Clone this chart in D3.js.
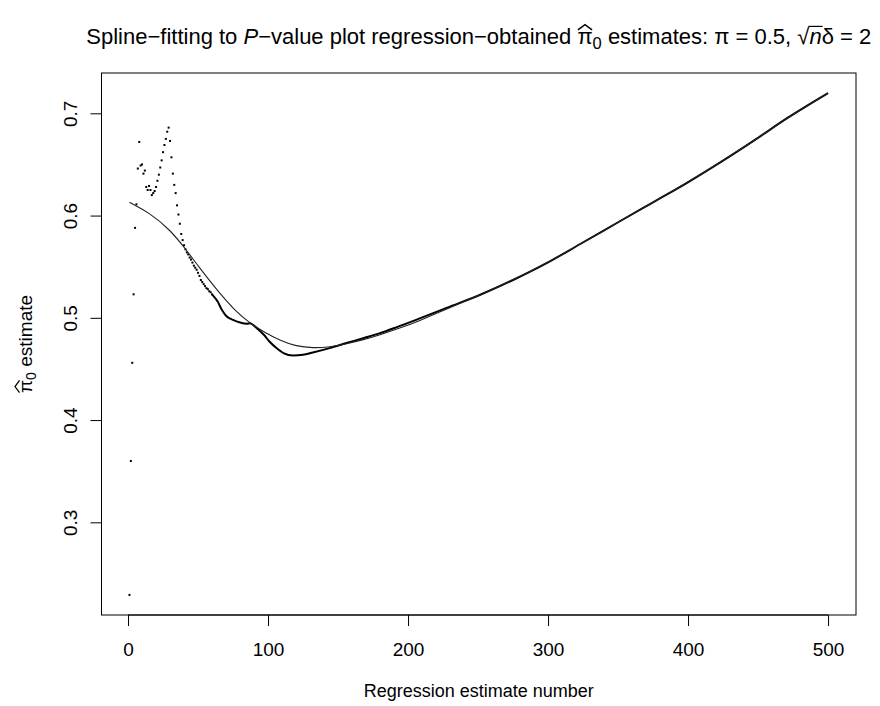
<!DOCTYPE html>
<html lang="en">
<head>
<meta charset="UTF-8">
<title>Spline fitting to regression estimates</title>
<script src="https://d3js.org/d3.v7.min.js"></script>
<style>
    body { margin: 0; background: #fff; }
    text { font-family: "Liberation Sans", Arial, Helvetica, sans-serif; fill: #000; }
</style>
</head>
<body>
<script>
    // estimates 1..60, one per regression number
    const earlyValues = [
        0.229, 0.360, 0.456, 0.523, 0.588, 0.611, 0.646, 0.672, 0.649, 0.650,
        0.641, 0.644, 0.628, 0.625, 0.629, 0.625, 0.620, 0.622, 0.624, 0.628,
        0.634, 0.640, 0.647, 0.654, 0.662, 0.669, 0.675, 0.682, 0.686, 0.673,
        0.657, 0.641, 0.630, 0.622, 0.610, 0.601, 0.592, 0.582, 0.576, 0.571,
        0.567, 0.564, 0.562, 0.559, 0.557, 0.554, 0.551, 0.549, 0.547, 0.544,
        0.541, 0.537, 0.535, 0.533, 0.531, 0.529, 0.528, 0.526, 0.525, 0.523
    ];

    // from 60 on the points run together into a thick trace
    const denseIdx = [60, 64, 67, 70, 75, 80, 85, 87, 92, 97, 101, 106, 111, 118, 125, 132, 144, 156, 168,
        180, 192, 207, 228, 252, 275, 299, 323, 351, 375, 399, 423, 447, 471, 500];
    const denseValues = [0.523, 0.5159, 0.5078, 0.5020, 0.4980, 0.4954, 0.4941, 0.4948, 0.4899, 0.4834,
        0.4768, 0.4704, 0.4655, 0.4631, 0.4638, 0.4661, 0.4704, 0.4753, 0.4801,
        0.4850, 0.4909, 0.4987, 0.5100, 0.5228, 0.5370, 0.5535, 0.5722, 0.5942, 0.6130, 0.6318, 0.6520,
        0.6733, 0.6955, 0.7198];

    // fitted smoothing spline
    const splineIdx = [1, 15, 30, 41, 51, 63, 77, 87, 97, 109, 120, 132, 144, 156, 168,
        180, 192, 207, 228, 252, 275, 299, 323, 351, 375, 399, 423, 447, 471, 500];
    const splineValues = [0.6131, 0.6030, 0.5862, 0.5675, 0.5490, 0.5280, 0.5060, 0.4950, 0.4860, 0.4775,
        0.4722, 0.4704, 0.4713, 0.4746, 0.4785,
        0.4834, 0.4889, 0.4964, 0.5090, 0.5228, 0.5370, 0.5535, 0.5722, 0.5942, 0.6130, 0.6318, 0.6520,
        0.6733, 0.6955, 0.7198];

    const xTicks = [0, 100, 200, 300, 400, 500];
    const yTicks = [0.3, 0.4, 0.5, 0.6, 0.7];

    const width = 880, height = 706;
    const margin = {top: 73, right: 24, bottom: 91, left: 101.5};
    const fontPx = 19;

    const svg = d3.select("body").append("svg")
        .attr("width", width)
        .attr("height", height);

    const early = earlyValues.map((v, i) => ({i: i + 1, v: v}));
    const dense = denseIdx.map((d, k) => ({i: d, v: denseValues[k]}));
    const spline = splineIdx.map((d, k) => ({i: d, v: splineValues[k]}));

    // R style: pad the data range by 4% on each side
    const allI = early.map(d => d.i).concat(denseIdx);
    const allV = earlyValues.concat(denseValues);
    const [i0, i1] = d3.extent(allI);
    const [v0, v1] = d3.extent(allV);
    const x = d3.scaleLinear()
        .domain([i0 - 0.04 * (i1 - i0), i1 + 0.04 * (i1 - i0)])
        .range([margin.left, width - margin.right]);
    const y = d3.scaleLinear()
        .domain([v0 - 0.04 * (v1 - v0), v1 + 0.04 * (v1 - v0)])
        .range([height - margin.bottom, margin.top]);

    // box
    svg.append("rect")
        .attr("x", x.range()[0])
        .attr("y", y.range()[1])
        .attr("width", x.range()[1] - x.range()[0])
        .attr("height", y.range()[0] - y.range()[1])
        .attr("fill", "none")
        .attr("stroke", "#000")
        .attr("stroke-width", 1);

    // x axis
    const xAxis = svg.append("g")
        .attr("transform", `translate(0,${y.range()[0]})`)
        .call(d3.axisBottom(x).tickValues(xTicks).tickSize(11).tickSizeOuter(0).tickPadding(16.7)
            .tickFormat(d3.format("d")));
    xAxis.select(".domain").remove();
    xAxis.append("line")
        .attr("x1", x(xTicks[0])).attr("x2", x(xTicks[xTicks.length - 1]))
        .attr("stroke", "#000");
    xAxis.selectAll("text").style("font-size", fontPx + "px").attr("fill", "#000");

    // y axis, labels parallel to the axis
    const yAxis = svg.append("g")
        .attr("transform", `translate(${x.range()[0]},0)`)
        .call(d3.axisLeft(y).tickValues(yTicks).tickSize(11).tickSizeOuter(0).tickFormat(d3.format(".1f")));
    yAxis.select(".domain").remove();
    yAxis.append("line")
        .attr("y1", y(yTicks[0])).attr("y2", y(yTicks[yTicks.length - 1]))
        .attr("stroke", "#000");
    yAxis.selectAll(".tick text")
        .attr("x", null).attr("dy", null)
        .attr("text-anchor", "middle")
        .attr("transform", "translate(-25,0) rotate(-90)")
        .attr("fill", "#000")
        .style("font-size", fontPx + "px");
    svg.selectAll(".tick line").attr("stroke", "#000");

    // points
    svg.append("g")
        .selectAll("rect")
        .data(early)
        .join("rect")
        .attr("x", d => x(d.i) - 1)
        .attr("y", d => y(d.v) - 1)
        .attr("width", 2)
        .attr("height", 2)
        .attr("fill", "#000");

    svg.append("path")
        .datum(dense)
        .attr("fill", "none")
        .attr("stroke", "#000")
        .attr("stroke-width", 2)
        .attr("d", d3.line().x(d => x(d.i)).y(d => y(d.v)).curve(d3.curveMonotoneX));

    svg.append("path")
        .datum(spline)
        .attr("fill", "none")
        .attr("stroke", "#222")
        .attr("stroke-width", 1.1)
        .attr("d", d3.line().x(d => x(d.i)).y(d => y(d.v)).curve(d3.curveBasis));

    // draw a hat over the character at index k of a text element
    function hatOver(parent, textEl, k, size) {
        const a = textEl.node().getStartPositionOfChar(k);
        const b = textEl.node().getEndPositionOfChar(k);
        const mid = (a.x + b.x) / 2, half = (b.x - a.x) / 2 - 0.5;
        parent.append("path")
            .attr("fill", "none")
            .attr("stroke", "#000")
            .attr("stroke-width", size * 0.065)
            .attr("d", `M${mid - half},${a.y - size * 0.64} L${mid},${a.y - size * 0.88} L${mid + half},${a.y - size * 0.64}`);
    }

    // title
    const titleSize = 22;
    const title = svg.append("text")
        .attr("x", (x.range()[0] + x.range()[1]) / 2)
        .attr("y", 44)
        .attr("text-anchor", "middle")
        .style("font-size", titleSize + "px");
    title.append("tspan").text("Spline\u2212fitting to ");
    title.append("tspan").style("font-style", "italic").text("P");
    title.append("tspan").text("\u2212value plot regression\u2212obtained ");
    title.append("tspan").text("\u03c0");
    title.append("tspan").attr("dy", 5).style("font-size", (titleSize * 0.75) + "px").text("0");
    title.append("tspan").attr("dy", -5).text(" estimates: \u03c0 = 0.5, ");
    title.append("tspan").text("\u221a");
    title.append("tspan").style("font-style", "italic").text("n");
    title.append("tspan").text("\u03b4 = 2");

    const titleStr = title.node().textContent;
    hatOver(svg, title, titleStr.indexOf("\u03c0"), titleSize);
    const kRoot = titleStr.indexOf("\u221a");
    const rootEnd = title.node().getEndPositionOfChar(kRoot);
    const nEnd = title.node().getEndPositionOfChar(kRoot + 1);
    svg.append("line")
        .attr("x1", rootEnd.x - 1).attr("x2", nEnd.x + 1)
        .attr("y1", rootEnd.y - titleSize * 0.8).attr("y2", rootEnd.y - titleSize * 0.8)
        .attr("stroke", "#000").attr("stroke-width", 1.2);

    // x axis title
    svg.append("text")
        .attr("x", (x.range()[0] + x.range()[1]) / 2)
        .attr("y", 697)
        .attr("text-anchor", "middle")
        .style("font-size", "18px")
        .text("Regression estimate number");

    // y axis title
    const yLab = svg.append("g")
        .attr("transform", `translate(31.7,${(y.range()[0] + y.range()[1]) / 2}) rotate(-90)`);
    const yText = yLab.append("text")
        .attr("text-anchor", "middle")
        .style("font-size", fontPx + "px");
    yText.append("tspan").text("\u03c0");
    yText.append("tspan").attr("dy", 4).style("font-size", (fontPx * 0.75) + "px").text("0");
    yText.append("tspan").attr("dy", -4).text(" estimate");
    hatOver(yLab, yText, 0, fontPx);
</script>
</body>
</html>
